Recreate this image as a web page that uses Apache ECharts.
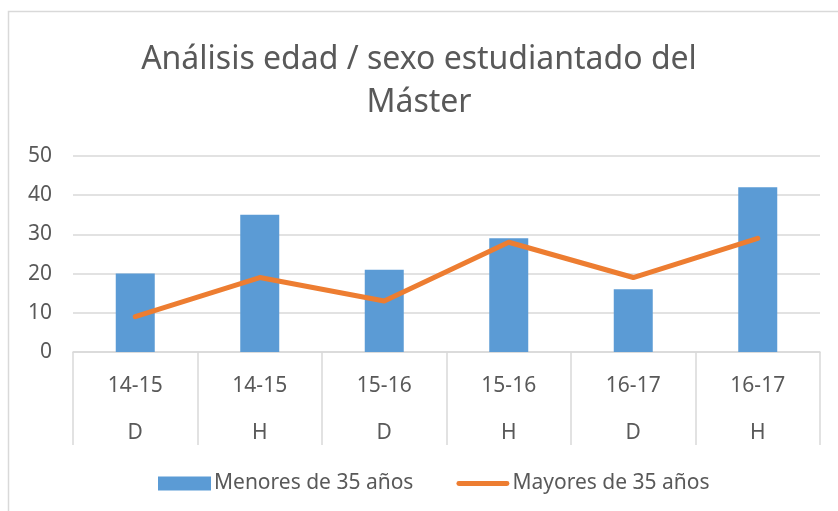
<!DOCTYPE html>
<html>
<head>
<meta charset="utf-8">
<script src="https://cdn.jsdelivr.net/npm/echarts@6/dist/echarts.min.js"></script>
<style>
  html, body { margin: 0; padding: 0; background: #fff; }
  #main { width: 838px; height: 511px; }
</style>
</head>
<body>
<div id="main"></div>
<script>
// datos
var years = ["14-15", "14-15", "15-16", "15-16", "16-17", "16-17"];
var sexo = ["D", "H", "D", "H", "D", "H"];
var menores = [20, 35, 21, 29, 16, 42];
var mayores = [9, 19, 13, 28, 19, 29];

var FONT = "Noto Sans";
var GRIS = "#d9d9d9";
var TEXTO = "#595959";

var chart = echarts.init(document.getElementById("main"));

chart.setOption({
  textStyle: { fontFamily: FONT },
  title: {
    text: "Análisis edad / sexo estudiantado del\nMáster",
    left: "center",
    top: 33,
    textStyle: { fontFamily: FONT, fontSize: 32, fontWeight: "normal", color: TEXTO, lineHeight: 43 }
  },
  // borde del gráfico
  graphic: [{
    type: "rect",
    shape: { x: 8.5, y: 11.5, width: 900, height: 600 },
    style: { fill: "none", stroke: GRIS, lineWidth: 1.5 },
    silent: true
  }],
  legend: {
    bottom: 12,
    left: 153,
    itemWidth: 53,
    itemHeight: 14,
    itemGap: 43,
    textStyle: { fontFamily: FONT, fontSize: 21, color: TEXTO, padding: [0, 0, 0, -2] },
    data: [
      { name: "Menores de 35 años", icon: "rect" },
      {
        name: "Mayores de 35 años",
        icon: "path://M2.5,0 L52.5,0 A2.5,2.5 0 0 1 52.5,5 L2.5,5 A2.5,2.5 0 0 1 2.5,0 Z",
        symbolKeepAspect: true
      }
    ]
  },
  grid: { left: 73, right: 18, top: 156, bottom: 159 },
  xAxis: {
    type: "category",
    data: years.map(function (y, i) { return y + "\n" + sexo[i]; }),
    axisLine: { lineStyle: { color: GRIS, width: 1.5 } },
    axisTick: { show: true, length: 93, lineStyle: { color: GRIS, width: 1.5 } },
    axisLabel: {
      margin: 11,
      color: TEXTO,
      fontFamily: FONT,
      fontSize: 21,
      lineHeight: 47
    }
  },
  yAxis: {
    type: "value",
    min: 0,
    max: 50,
    interval: 10,
    axisLine: { show: false },
    axisTick: { show: false },
    axisLabel: { margin: 21, color: TEXTO, fontFamily: FONT, fontSize: 21 },
    splitLine: { lineStyle: { color: GRIS, width: 1.5 } }
  },
  series: [
    {
      name: "Menores de 35 años",
      type: "bar",
      data: menores,
      barWidth: 39,
      itemStyle: { color: "#5B9BD5" }
    },
    {
      name: "Mayores de 35 años",
      type: "line",
      data: mayores,
      showSymbol: false,
      symbol: "none",
      lineStyle: { color: "#ED7D31", width: 5, cap: "round", join: "round" },
      itemStyle: { color: "#ED7D31" }
    }
  ]
});
</script>
</body>
</html>
